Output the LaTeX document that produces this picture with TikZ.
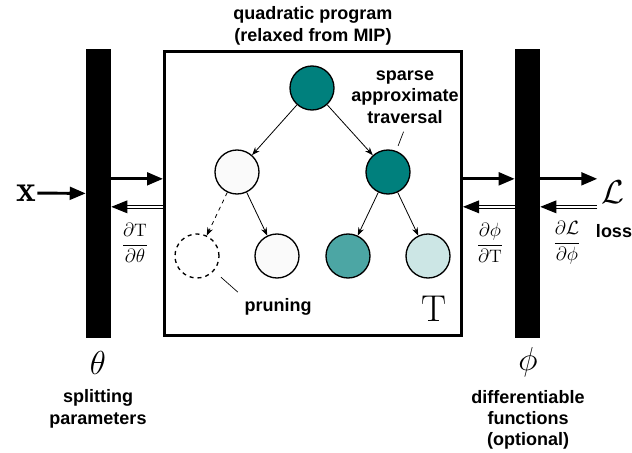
\documentclass[tikz,border=0pt]{standalone}
\usepackage{fontspec}
\setsansfont{Liberation Sans}
\usepackage{xcolor}
\definecolor{Deep Teal}{HTML}{00807D}
\definecolor{Paper}{HTML}{FAFAFA}
\colorlet{cTeal}{Deep Teal}
\colorlet{c0}{cTeal}
\colorlet{c1}{cTeal!70!white}
\colorlet{c2}{cTeal!20!white}
\usepackage{tikz}
\usetikzlibrary{arrows.meta, positioning}
\tikzset{
	font = \sffamily\bfseries\fontsize{13.5}{16}\selectfont,
	vertex/.style={
		draw,
		circle,
		line width=1pt,
		minimum size=33pt,
		inner sep=0pt
	},
	edge/.style={
		-{Stealth[length=6pt,width=4.5pt]},
		line width=.6pt
	},
	flow/.style={
		-{Triangle[length=12pt,width=9.5pt]},
		line width=2.2pt
	},
	grad/.style={
		-{Triangle[length=12pt,width=9.5pt]},
		double,
		double distance=1.6pt,
		line width=.8pt
	},
	layer/.style={
		fill=black,
		inner sep=0pt,
		minimum width=18.75pt,
		minimum height=217pt
	},
	big/.style={
		font=\fontsize{28}{30}\selectfont,
		inner sep=1pt
	},
	frac/.style={
		font=\fontsize{13.5}{15}\selectfont
	},
	note/.style={
		align=center
	},
	pointer/.style={
		line width=.5pt
	}
}

\begin{document}
\begin{tikzpicture}[x=0.75pt, y=-0.75pt]
\useasboundingbox (0,0) rectangle (632,453);

% ---
% layers
% ---
\node[layer] at (98.5,193.5) (theta-bar) {};
\node[layer] at (527.5,193.5) (phi-bar) {};
\node[draw, line width=2.25pt, minimum width=222.75pt, minimum height=213pt] at (313,193.5) (qp) {};

\node[note] at (313,26) (qp-title) {quadratic program\\(relaxed from MIP)};
\node[big] at (434,309) (qp-T) {$\mathrm{T}$};

% ---
% tree
% ---
\node[vertex, fill=c0] at (312,88) (root) {};
\node[vertex, fill=Paper] at ([shift={(-75,84)}]root) (left) {};
\node[vertex, fill=c0] at ([shift={(76,84)}]root) (right) {};
\node[vertex, dashed] at ([shift={(-40,84)}]left) (left-0) {};
\node[vertex, fill=Paper] at ([shift={(40,84)}]left) (left-1) {};
\node[vertex, fill=c1] at ([shift={(-40,84)}]right) (right-0) {};
\node[vertex, fill=c2] at ([shift={(40,84)}]right) (right-1) {};

\draw[edge] (root) to (left);
\draw[edge] (root) to (right);
\draw[edge, dashed] (left) to (left-0);
\draw[edge] (left) to (left-1);
\draw[edge] (right) to (right-0);
\draw[edge] (right) to (right-1);

\node[note] at (405,97) (sparse) {sparse\\approximate\\traversal};
\node at (278,307) (prune) {pruning};
\draw[pointer, shorten <=3pt, shorten >=4pt] (sparse.south) to (right);
\draw[pointer, shorten <=2pt, shorten >=7pt] (prune.north west) to (left-0);

% ---
% inputs, outputs, gradients
% ---
\node[big] at (26,193) (x) {$\mathbf{x}$};
\node[big, inner sep=3pt] at (613,192) (loss) {$\mathcal{L}$};
\node at (614,231) (loss-label) {loss};

\draw[flow] (x) to (theta-bar);
\draw[flow] ([yshift=11pt]theta-bar.east) to ([yshift=11pt]qp.west);
\draw[flow] ([yshift=11pt]qp.east) to ([yshift=11pt]phi-bar.west);
\draw[flow] ([yshift=11pt]phi-bar.east) to ([yshift=11pt]phi-bar.east -| loss.west);

\draw[grad] ([yshift=-10pt]qp.west) to ([yshift=-10pt]theta-bar.east);
\draw[grad] ([yshift=-10pt]phi-bar.west) to ([yshift=-10pt]qp.east);
\draw[grad] ([yshift=-10pt]phi-bar.east -| loss.west) to ([yshift=-10pt]phi-bar.east);

\node[frac] at (135,243) (dT-dtheta) {$\displaystyle\frac{\partial\mathrm{T}}{\partial\theta}$};
\node[frac] at (490,243) (dphi-dT) {$\displaystyle\frac{\partial\phi}{\partial\mathrm{T}}$};
\node[frac] at (567,243) (dL-dphi) {$\displaystyle\frac{\partial\mathcal{L}}{\partial\phi}$};

% ---
% parameters
% ---
\node[big] at (98,363) (theta) {$\theta$};
\node[big] at (528,362) (phi) {$\phi$};
\node[note] at (98,409) (theta-label) {splitting\\parameters};
\node[note] at (528,420) (phi-label) {differentiable\\functions\\(optional)};
\end{tikzpicture}
\end{document}
